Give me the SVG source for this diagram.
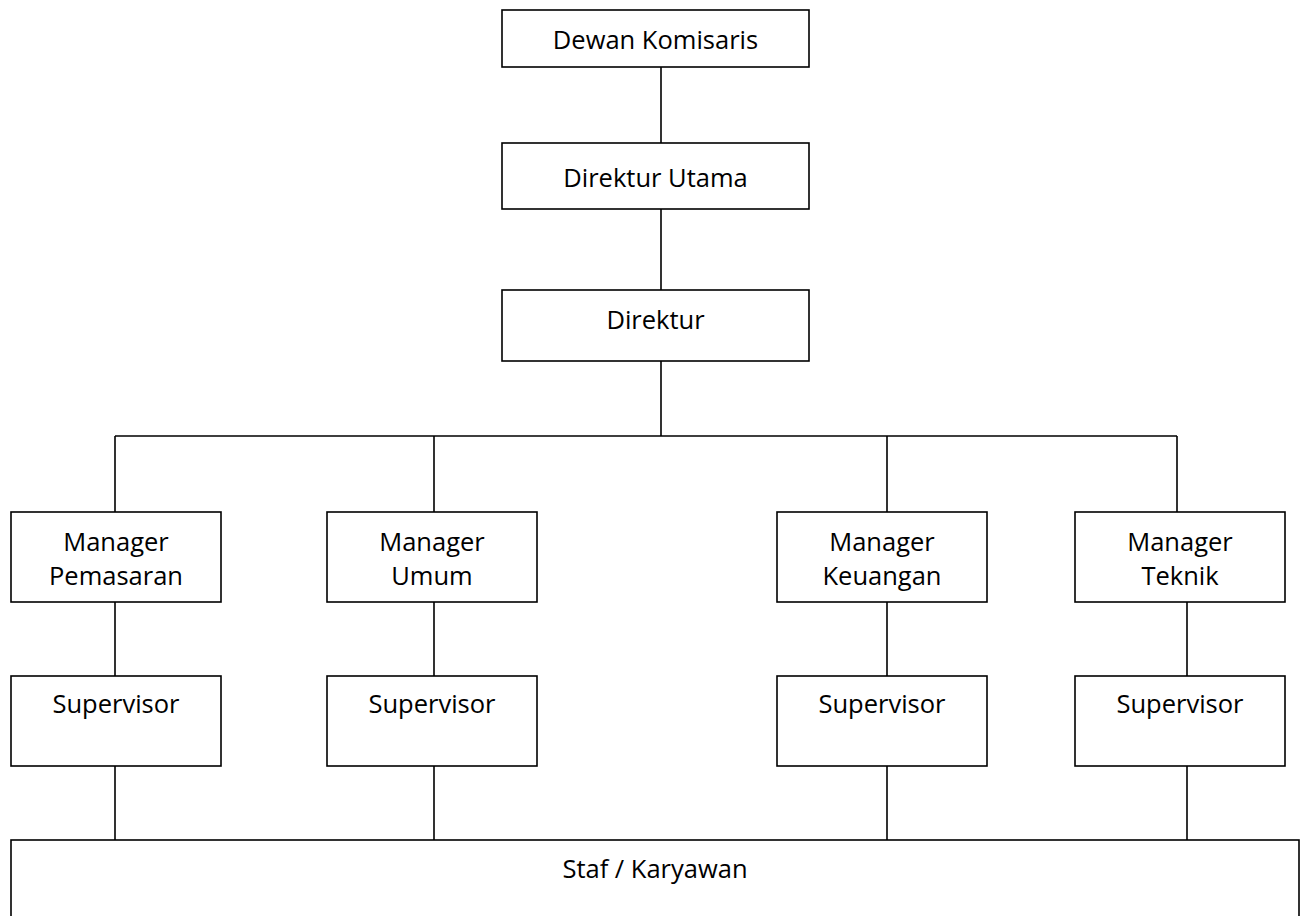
<svg xmlns="http://www.w3.org/2000/svg" width="1307" height="916" viewBox="0 0 1307 916">
<style>
.box{fill:#fff;stroke:#000;stroke-width:1.6}
.ln{fill:none;stroke:#000;stroke-width:1.6}
text{font-family:"Open Sans","Noto Sans","Liberation Sans",sans-serif;font-size:25.5px;fill:#000;text-anchor:middle}
</style>
<rect width="1307" height="916" fill="#fff"/>
<g id="connectors">
<path class="ln" d="M661 67V143M661 209V290M661 361V436M115 436H1177M115 436V512M434 436V512M887 436V512M1177 436V512M115 602V676M434 602V676M887 602V676M1187 602V676M115 766V840M434 766V840M887 766V840M1187 766V840"/>
</g>
<g id="dewan-komisaris"><rect class="box" x="502" y="10" width="307" height="57"/><text x="655.5" y="49">Dewan Komisaris</text></g>
<g id="direktur-utama"><rect class="box" x="502" y="143" width="307" height="66"/><text x="655.5" y="187">Direktur Utama</text></g>
<g id="direktur"><rect class="box" x="502" y="290" width="307" height="71"/><text x="655.5" y="329">Direktur</text></g>
<g id="manager-pemasaran"><rect class="box" x="11" y="512" width="210" height="90"/><text x="116" y="551">Manager</text><text x="116" y="585">Pemasaran</text></g>
<g id="manager-umum"><rect class="box" x="327" y="512" width="210" height="90"/><text x="432" y="551">Manager</text><text x="432" y="585">Umum</text></g>
<g id="manager-keuangan"><rect class="box" x="777" y="512" width="210" height="90"/><text x="882" y="551">Manager</text><text x="882" y="585">Keuangan</text></g>
<g id="manager-teknik"><rect class="box" x="1075" y="512" width="210" height="90"/><text x="1180" y="551">Manager</text><text x="1180" y="585">Teknik</text></g>
<g id="supervisor-1"><rect class="box" x="11" y="676" width="210" height="90"/><text x="116" y="713">Supervisor</text></g>
<g id="supervisor-2"><rect class="box" x="327" y="676" width="210" height="90"/><text x="432" y="713">Supervisor</text></g>
<g id="supervisor-3"><rect class="box" x="777" y="676" width="210" height="90"/><text x="882" y="713">Supervisor</text></g>
<g id="supervisor-4"><rect class="box" x="1075" y="676" width="210" height="90"/><text x="1180" y="713">Supervisor</text></g>
<g id="staf-karyawan"><rect class="box" x="11" y="840" width="1288" height="100"/><text x="655" y="878">Staf / Karyawan</text></g>
</svg>
